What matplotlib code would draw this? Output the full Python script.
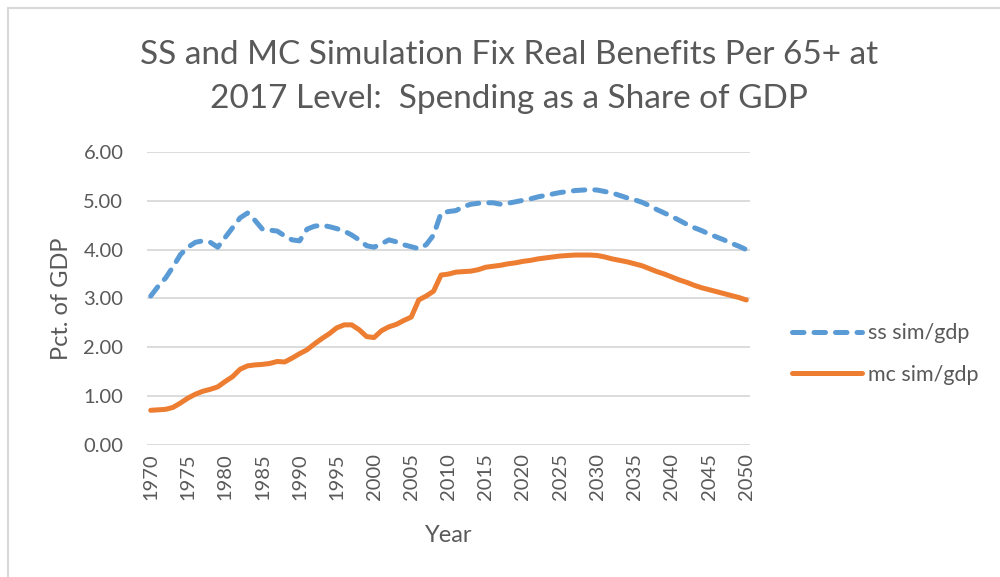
import matplotlib
matplotlib.use("Agg")
import matplotlib.pyplot as plt
from matplotlib.patches import Rectangle
import numpy as np

plt.rcParams['font.family'] = ['Lato', 'DejaVu Sans']

years = list(range(1970, 2051))

ss_sim = [3.05, 3.25, 3.42, 3.65, 3.90, 4.05, 4.15, 4.18, 4.15, 4.05,
          4.25, 4.45, 4.65, 4.75, 4.60, 4.42, 4.40, 4.38, 4.28, 4.20,
          4.18, 4.42, 4.48, 4.50, 4.47, 4.43, 4.38, 4.30, 4.20, 4.08,
          4.05, 4.12, 4.20, 4.16, 4.10, 4.06, 4.02, 4.10, 4.30, 4.75,
          4.78, 4.80, 4.88, 4.93, 4.95, 4.96, 4.96, 4.93, 4.95, 4.98,
          5.01, 5.04, 5.08, 5.11, 5.14, 5.17, 5.19, 5.21, 5.22, 5.23,
          5.22, 5.19, 5.16, 5.11, 5.06, 5.02, 4.97, 4.90, 4.82, 4.75,
          4.68, 4.60, 4.52, 4.45, 4.39, 4.32, 4.26, 4.20, 4.13, 4.07,
          4.00]

mc_sim = [0.71, 0.72, 0.73, 0.77, 0.86, 0.96, 1.04, 1.10, 1.14, 1.19,
          1.30, 1.40, 1.55, 1.62, 1.64, 1.65, 1.67, 1.71, 1.70, 1.78,
          1.87, 1.95, 2.07, 2.18, 2.28, 2.40, 2.46, 2.46, 2.36, 2.22,
          2.20, 2.34, 2.42, 2.47, 2.55, 2.62, 2.97, 3.05, 3.15, 3.48,
          3.50, 3.54, 3.55, 3.56, 3.59, 3.64, 3.66, 3.68, 3.71, 3.73,
          3.76, 3.78, 3.81, 3.83, 3.85, 3.87, 3.88, 3.89, 3.89, 3.89,
          3.88, 3.85, 3.81, 3.78, 3.75, 3.71, 3.67, 3.61, 3.55, 3.50,
          3.44, 3.38, 3.33, 3.27, 3.22, 3.18, 3.14, 3.10, 3.06, 3.02,
          2.97]

text_col = "#595959"
grid_col = "#d9d9d9"

fig = plt.figure(figsize=(10, 5.77), dpi=100)
# light frame round the chart, as in the export
fig.patches.append(Rectangle((0.0075, -0.05), 1.2, 1.037, transform=fig.transFigure,
                             fill=False, edgecolor=grid_col, linewidth=1.5))

ax = fig.add_axes([0.147, 0.2288, 0.603, 0.5078])

ax.plot(years, ss_sim, color="#5b9bd5", lw=3.6, ls=(0, (2.3, 2.0)),
        dash_capstyle="round", solid_capstyle="round", label="ss sim/gdp")
ax.plot(years, mc_sim, color="#ed7d31", lw=3.6, solid_capstyle="round",
        label="mc sim/gdp")

ax.set_xlim(1969.5, 2050.5)
ax.set_ylim(0, 6)
ax.set_yticks(np.arange(0, 6.01, 1.0))
ax.set_yticklabels(["%.2f" % v for v in np.arange(0, 6.01, 1.0)])
ax.set_xticks(range(1970, 2051, 5))
ax.set_xticklabels([str(y) for y in range(1970, 2051, 5)], rotation=90)
ax.tick_params(axis="both", length=0, colors=text_col, labelsize=14.5)
ax.tick_params(axis="y", pad=17)
ax.tick_params(axis="x", pad=6)
ax.grid(axis="y", color=grid_col, lw=1.3)
ax.set_axisbelow(True)
for s in ax.spines.values():
    s.set_visible(False)

ax.set_ylabel("Pct. of GDP", fontsize=17, color=text_col, labelpad=8)
ax.set_xlabel("Year", fontsize=17, color=text_col, labelpad=18)

fig.text(0.509, 0.905, "SS and MC Simulation Fix Real Benefits Per 65+ at",
         ha="center", va="center", fontsize=24, color=text_col)
fig.text(0.509, 0.828, "2017 Level:  Spending as a Share of GDP",
         ha="center", va="center", fontsize=24, color=text_col)

leg = ax.legend(loc="center left", bbox_to_anchor=(1.0697, 0.31), frameon=False,
                fontsize=15.5, handlelength=3.25, labelspacing=1.0,
                handletextpad=0.3, borderpad=0, borderaxespad=0)
for t in leg.get_texts():
    t.set_color(text_col)

fig.savefig("out.png", dpi=100)
